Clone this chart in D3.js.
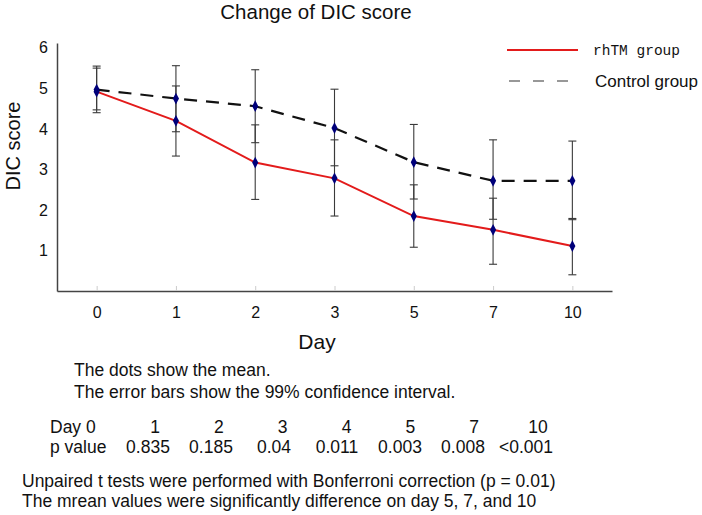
<!DOCTYPE html>
<html>
<head>
<meta charset="utf-8">
<script src="https://cdn.jsdelivr.net/npm/d3@7"></script>
<style>
  html, body { margin: 0; padding: 0; background: #fff; }
  svg { display: block; font-family: "Liberation Sans", Arial, sans-serif; }
</style>
</head>
<body>
<svg id="chart" width="702" height="515"></svg>
<script>
// ---- data ----
const days = ["0", "1", "2", "3", "5", "7", "10"];
const rhtmMean = [4.92, 4.20, 3.17, 2.78, 1.85, 1.51, 1.11];
const rhtmLow  = [4.40, 3.33, 2.26, 1.85, 1.08, 0.66, 0.40];
const rhtmHigh = [5.50, 5.06, 4.10, 3.73, 2.62, 2.29, 1.79];
const ctrlMean = [4.97, 4.75, 4.56, 4.02, 3.18, 2.72, 2.72];
const ctrlLow  = [4.47, 3.93, 3.66, 3.09, 2.27, 1.77, 1.76];
const ctrlHigh = [5.55, 5.56, 5.46, 4.98, 4.11, 3.73, 3.70];
const yTicks = [1, 2, 3, 4, 5, 6];
const seriesNames = ["rhTM group", "Control group"];
const pDays = ["1", "2", "3", "4", "5", "7", "10"];
const pValues = ["0.835", "0.185", "0.04", "0.011", "0.003", "0.008", "<0.001"];
const notes1 = ["The dots show the mean.", "The error bars show the 99% confidence interval."];
const notes2 = ["Unpaired t tests were performed with Bonferroni correction (p = 0.01)",
                "The mrean values were significantly difference on day 5, 7, and 10"];

// ---- layout ----
const svg = d3.select("#chart");
const x = d3.scalePoint().domain(days).range([57, 612]).padding(0.5);
const y = d3.scaleLinear().domain([0, 6.12]).range([291, 43]);
const axisColor = "#444";
const textColor = "#111";

// title
svg.append("text").attr("x", 316).attr("y", 19).attr("text-anchor", "middle")
  .attr("font-size", 20.5).attr("fill", textColor).text("Change of DIC score");

// y axis
const gy = svg.append("g").attr("transform", "translate(57,0)")
  .call(d3.axisLeft(y).tickValues(yTicks).tickSize(0).tickPadding(9).tickFormat(d3.format("d")));
gy.select(".domain").attr("stroke", axisColor).attr("stroke-width", 1.5);
gy.selectAll("text").attr("font-size", 16).attr("fill", textColor)
  .attr("font-family", "'Liberation Sans', Arial, sans-serif");

// x axis
const gx = svg.append("g").attr("transform", "translate(0,291)")
  .call(d3.axisBottom(x).tickSize(-5).tickSizeOuter(0).tickPadding(15.5));
gx.select(".domain").attr("stroke", axisColor).attr("stroke-width", 1.5);
gx.selectAll(".tick line").attr("stroke", "#ccc");
gx.selectAll("text").attr("font-size", 16).attr("fill", textColor)
  .attr("font-family", "'Liberation Sans', Arial, sans-serif");

// axis titles
svg.append("text").attr("transform", "translate(20,146) rotate(-90)")
  .attr("text-anchor", "middle").attr("font-size", 20).attr("fill", textColor).text("DIC score");
svg.append("text").attr("x", 317).attr("y", 349).attr("text-anchor", "middle")
  .attr("font-size", 21).attr("fill", textColor).text("Day");

// error bars
function errorBars(low, high) {
  const g = svg.append("g").attr("stroke", "#3a3a3a").attr("stroke-width", 1.1).attr("fill", "none");
  days.forEach((d, i) => {
    const cx = x(d);
    g.append("line").attr("x1", cx).attr("x2", cx).attr("y1", y(low[i])).attr("y2", y(high[i]));
    g.append("line").attr("x1", cx - 4).attr("x2", cx + 4).attr("y1", y(low[i])).attr("y2", y(low[i]));
    g.append("line").attr("x1", cx - 4).attr("x2", cx + 4).attr("y1", y(high[i])).attr("y2", y(high[i]));
  });
}
errorBars(ctrlLow, ctrlHigh);
errorBars(rhtmLow, rhtmHigh);

// lines
const line = d3.line().x((v, i) => x(days[i])).y(v => y(v));
svg.append("path").datum(ctrlMean).attr("d", line).attr("fill", "none")
  .attr("stroke", "#111").attr("stroke-width", 2.2).attr("stroke-dasharray", "13,9");
svg.append("path").datum(rhtmMean).attr("d", line).attr("fill", "none")
  .attr("stroke", "#e31b1b").attr("stroke-width", 2);

// markers
const diamond = d3.symbol().type(d3.symbolDiamond).size(40);
[ctrlMean, rhtmMean].forEach(arr => {
  svg.append("g").selectAll("path").data(arr).join("path")
    .attr("d", diamond)
    .attr("transform", (v, i) => `translate(${x(days[i])},${y(v)}) scale(0.9,1)`)
    .attr("fill", "#00007a");
});

// legend
const lg = svg.append("g");
lg.append("line").attr("x1", 507).attr("x2", 578).attr("y1", 50).attr("y2", 50)
  .attr("stroke", "#e31b1b").attr("stroke-width", 2);
lg.append("text").attr("x", 593).attr("y", 55).attr("font-size", 14.5)
  .attr("font-family", "'Liberation Mono', 'DejaVu Sans Mono', monospace")
  .attr("fill", textColor).text(seriesNames[0]);
lg.append("line").attr("x1", 509).attr("x2", 570).attr("y1", 81).attr("y2", 81)
  .attr("stroke", "#333").attr("stroke-width", 1.2).attr("stroke-dasharray", "11,13");
lg.append("text").attr("x", 595).attr("y", 87).attr("font-size", 17)
  .attr("fill", textColor).text(seriesNames[1]);

// notes
svg.append("g").selectAll("text").data(notes1).join("text")
  .attr("x", 74).attr("y", (d, i) => 376 + i * 22)
  .attr("font-size", 17.5).attr("fill", textColor).text(d => d);

// p value table
const colDay = d3.scalePoint().domain(pDays).range([155, 538]);
const colP = d3.scalePoint().domain(pDays).range([148, 526]);
svg.append("text").attr("x", 50).attr("y", 433).attr("font-size", 17.5).attr("fill", textColor).text("Day 0");
svg.append("text").attr("x", 50).attr("y", 453).attr("font-size", 17.5).attr("fill", textColor).text("p value");
svg.append("g").selectAll("text").data(pDays).join("text")
  .attr("x", d => colDay(d)).attr("y", 433).attr("text-anchor", "middle")
  .attr("font-size", 17.5).attr("fill", textColor).text(d => d);
svg.append("g").selectAll("text").data(pValues).join("text")
  .attr("x", (d, i) => colP(pDays[i])).attr("y", 453).attr("text-anchor", "middle")
  .attr("font-size", 17.5).attr("fill", textColor).text(d => d);

svg.append("g").selectAll("text").data(notes2).join("text")
  .attr("x", 22).attr("y", (d, i) => 487 + i * 20)
  .attr("font-size", 17.5).attr("fill", textColor).text(d => d);
</script>
</body>
</html>
